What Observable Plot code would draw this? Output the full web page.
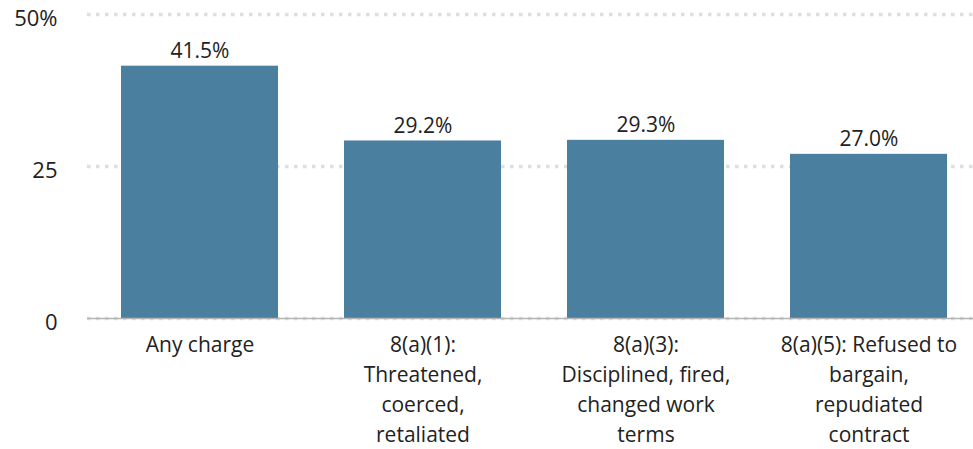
<!DOCTYPE html>
<html>
<head>
<meta charset="utf-8">
<script src="https://cdn.jsdelivr.net/npm/d3@7"></script>
<script src="https://cdn.jsdelivr.net/npm/@observablehq/plot@0.6"></script>
<style>
  html, body { margin: 0; padding: 0; background: #fff; }
  #chart svg { display: block; }
</style>
</head>
<body>
<div id="chart"></div>
<script>
const categories = ["Any charge", "8(a)(1)", "8(a)(3)", "8(a)(5)"];
const tickLabels = [
  "Any charge",
  "8(a)(1):\nThreatened,\ncoerced,\nretaliated",
  "8(a)(3):\nDisciplined, fired,\nchanged work\nterms",
  "8(a)(5): Refused to\nbargain,\nrepudiated\ncontract"
];
const values = [41.5, 29.2, 29.3, 27.0];
const yTicks = [0, 25, 50];

const data = categories.map((c, i) => ({category: c, value: values[i]}));
const labelOf = new Map(categories.map((c, i) => [c, tickLabels[i]]));

const chart = Plot.plot({
  width: 973,
  height: 449,
  marginTop: 14,
  marginBottom: 131,
  marginLeft: 87,
  marginRight: 0,
  style: {fontFamily: "'Open Sans', sans-serif", fontSize: "21px", color: "#222", background: "#fff"},
  x: {domain: categories, paddingInner: 0.296, paddingOuter: 0.13, align: 0.57, label: null},
  y: {domain: [0, 50], label: null},
  marks: [
    Plot.ruleY(yTicks, {stroke: "#dedede", strokeWidth: 3.5, strokeDasharray: "3.5,5.5"}),
    Plot.barY(data, {x: "category", y: "value", fill: "#4a7fa0"}),
    Plot.ruleY([0], {stroke: "#b5b5b5", strokeWidth: 1.5}),
    Plot.text(data, {x: "category", y: "value", text: d => d.value.toFixed(1) + "%", dy: -8, lineAnchor: "bottom", fill: "#222", fontSize: 21}),
    Plot.axisY({ticks: yTicks, tickSize: 0, tickPadding: 30, dy: 4, fontSize: 22, fill: "#222",
      tickFormat: d => d === 50 ? "50%" : String(d)}),
    Plot.axisX({tickSize: 0, tickPadding: 12, fontSize: 21, lineHeight: 1.43, fill: "#222",
      tickFormat: d => labelOf.get(d)})
  ]
});
document.getElementById("chart").append(chart);
</script>
</body>
</html>
